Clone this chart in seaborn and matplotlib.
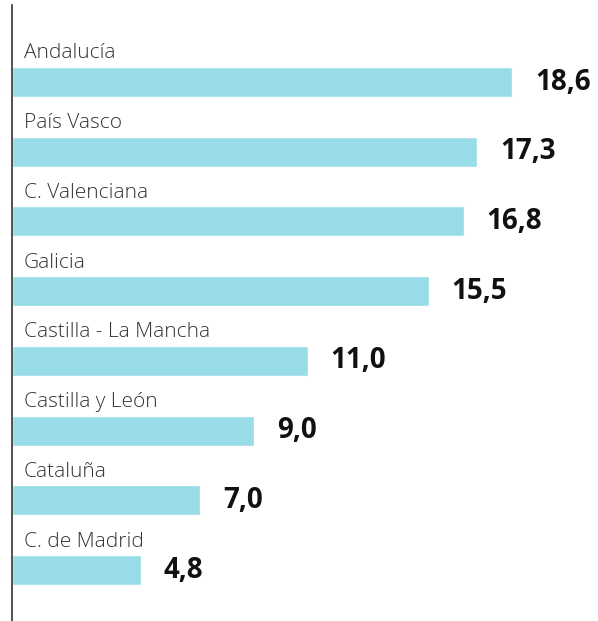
import pandas as pd
import numpy as np
import matplotlib.pyplot as plt
import seaborn as sns

# -------------------------
# data
# -------------------------
regions = ['Andalucía', 'País Vasco', 'C. Valenciana', 'Galicia',
           'Castilla - La Mancha', 'Castilla y León', 'Cataluña', 'C. de Madrid']
values = [18.6, 17.3, 16.8, 15.5, 11.0, 9.0, 7.0, 4.8]

df = pd.DataFrame({'region': regions, 'value': values})

sns.set_theme(style='white')
plt.rcParams['font.family'] = ['Open Sans', 'DejaVu Sans']

fig = plt.figure(figsize=(5.98, 6.21), dpi=100)
ax = fig.add_axes([12 / 598, 0, 1 - 12 / 598, 616 / 621])

sns.barplot(data=df, y='region', x='value', orient='h', color='#98dce8',
            saturation=1, width=0.43, ax=ax)

for i, (name, v) in enumerate(zip(regions, values)):
    ax.text(0.45, i - 0.41, name, ha='left', va='center', fontsize=15,
            fontweight='light', color='#333333')
    ax.text(v + 0.85, i, f'{v:.1f}'.replace('.', ','), ha='left', va='center',
            fontsize=20, fontweight='bold', color='#111111')

ax.set_xlim(0, 21.8)
ax.set_ylim(7.73, -1.105)
ax.set_xticks([])
ax.set_yticks([])
ax.set_xlabel('')
ax.set_ylabel('')
for s in ['top', 'right', 'bottom']:
    ax.spines[s].set_visible(False)
ax.spines['left'].set_color('#333333')
ax.spines['left'].set_linewidth(1.2)

plt.savefig('out.png', dpi=100)
plt.close()
